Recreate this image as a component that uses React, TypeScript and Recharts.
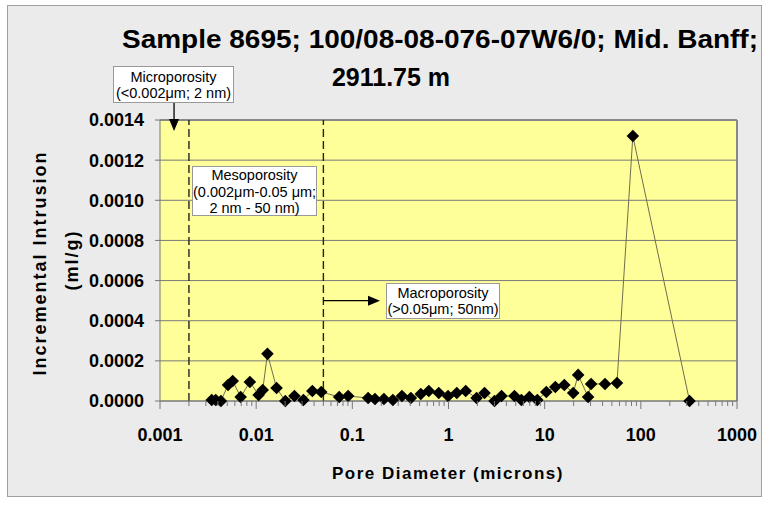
import React from "react"
import {
  CartesianGrid,
  ComposedChart,
  ReferenceLine,
  Scatter,
  XAxis,
  YAxis,
} from "recharts"

// pore diameter (microns)
const poreDiameter = [
  0.00345, 0.0038, 0.0043, 0.0051, 0.0057, 0.0069, 0.0086, 0.0106, 0.0117, 0.0131,
  0.0163, 0.0201, 0.025, 0.031, 0.0384, 0.0475, 0.073, 0.0905, 0.146, 0.172,
  0.213, 0.264, 0.328, 0.406, 0.515, 0.624, 0.792, 0.99, 1.22, 1.51,
  1.96, 2.37, 3.01, 3.56, 4.85, 5.73, 6.93, 8.38, 10.4, 12.9,
  16.0, 19.8, 22.3, 28.3, 30.4, 42.4, 56.5, 82.6, 321,
]

// incremental intrusion (ml/g)
const intrusion = [
  0.000005, 0.000005, 0, 0.00008, 0.0001, 0.00002, 0.000095, 0.00003, 0.000055, 0.000235,
  0.000065, 0, 0.000025, 0.000005, 0.00005, 0.000045, 0.00002, 0.000025, 0.000015, 0.00001,
  0.00001, 0.000005, 0.000025, 0.000015, 0.000035, 0.00005, 0.00004, 0.000025, 0.00004, 0.00005,
  0.000015, 0.00004, 0, 0.000025, 0.000025, 0.000005, 0.00002, 0.000005, 0.000045, 0.00007,
  0.00008, 0.00004, 0.00013, 0.00002, 0.000085, 0.000085, 0.00009, 0.00132, 0,
]

const xMajorTicks = [0.001, 0.01, 0.1, 1, 10, 100, 1000]
const xMinorSteps = [2, 3, 4, 5, 6, 7, 8, 9]
const yTicks = [0, 0.0002, 0.0004, 0.0006, 0.0008, 0.001, 0.0012, 0.0014]

const data = poreDiameter.map((d, i) => ({ d, v: intrusion[i] }))

const xTicks = [
  ...xMajorTicks,
  ...xMajorTicks.slice(0, -1).flatMap((m) => xMinorSteps.map((s) => +(m * s).toPrecision(3))),
].sort((a, b) => a - b)

const FONT = '"Liberation Sans", Arial, Helvetica, sans-serif'

function XTick(props: any) {
  const { x, y, payload } = props
  const major = xMajorTicks.includes(payload.value)
  return (
    <g>
      <line x1={x} x2={x} y1={y} y2={y + (major ? 8 : 5)} stroke="#777" />
      {major && (
        <text
          x={x}
          y={y + 40}
          textAnchor="middle"
          fontFamily={FONT}
          fontWeight="bold"
          fontSize={18}
          fill="#000"
        >
          {String(payload.value)}
        </text>
      )}
    </g>
  )
}

function Diamond(props: any) {
  const { cx, cy } = props
  const r = 6.3
  return (
    <polygon
      points={`${cx},${cy - r} ${cx + r},${cy} ${cx},${cy + r} ${cx - r},${cy}`}
      fill="#000"
    />
  )
}

function Arrow(props: any) {
  const { x1, y1, x2, y2 } = props
  const len = Math.hypot(x2 - x1, y2 - y1)
  const ux = (x2 - x1) / len
  const uy = (y2 - y1) / len
  const head = 12
  const half = 5
  const bx = x2 - ux * head
  const by = y2 - uy * head
  return (
    <g>
      <line x1={x1} y1={y1} x2={bx} y2={by} stroke="#000" strokeWidth={1.3} />
      <polygon
        points={`${x2},${y2} ${bx - uy * half},${by + ux * half} ${bx + uy * half},${by - ux * half}`}
        fill="#000"
      />
    </g>
  )
}

const boxStyle: React.CSSProperties = {
  position: "absolute",
  background: "#fff",
  border: "1px solid #999",
  fontFamily: FONT,
  fontSize: 14.5,
  lineHeight: "16px",
  textAlign: "center",
  color: "#000",
  boxSizing: "border-box",
  whiteSpace: "nowrap",
}

export default function App() {
  return (
    <div style={{ position: "absolute", left: 0, top: 0, width: 770, height: 510, background: "#fff" }}>
      <div
        style={{
          position: "absolute",
          left: 7,
          top: 5,
          width: 755,
          height: 492,
          background: "#EBEBEB",
          border: "1px solid #a0a0a0",
          boxSizing: "border-box",
        }}
      />
      <div style={{ position: "absolute", left: 0, top: 0 }}>
        <ComposedChart
          width={770}
          height={510}
          data={data}
          margin={{ top: 120, right: 33, bottom: 69, left: 0 }}
        >
          <CartesianGrid vertical={false} stroke="#7a7a7a" fill="#FFFF99" fillOpacity={1} />
          <XAxis
            dataKey="d"
            type="number"
            scale="log"
            domain={[0.001, 1000]}
            ticks={xTicks}
            interval={0}
            allowDataOverflow
            height={40}
            tickSize={0}
            tickMargin={0}
            tickLine={false}
            tick={<XTick />}
            axisLine={{ stroke: "#777" }}
          />
          <YAxis
            type="number"
            domain={[0, 0.0014]}
            ticks={yTicks}
            width={160}
            tickSize={5}
            tickMargin={11}
            tickLine={{ stroke: "#777" }}
            axisLine={{ stroke: "#777" }}
            tickFormatter={(v: number) => v.toFixed(4)}
            tick={{ fill: "#000", fontSize: 18, fontWeight: "bold", fontFamily: FONT }}
          />
          <ReferenceLine y={0.0014} stroke="#888" strokeWidth={2} />
          <ReferenceLine x={1000} stroke="#888" strokeWidth={2} />
          <ReferenceLine x={0.002} stroke="#222" strokeWidth={1.4} strokeDasharray="8 4" />
          <ReferenceLine x={0.05} stroke="#222" strokeWidth={1.4} strokeDasharray="8 4" />
          <ReferenceLine
            segment={[
              { x: 0.0014, y: 0.001485 },
              { x: 0.0014, y: 0.001345 },
            ]}
            ifOverflow="visible"
            shape={(p: any) => <Arrow {...p} />}
          />
          <ReferenceLine
            segment={[
              { x: 0.05, y: 0.0005 },
              { x: 0.194, y: 0.0005 },
            ]}
            ifOverflow="visible"
            shape={(p: any) => <Arrow {...p} />}
          />
          <Scatter
            dataKey="v"
            isAnimationActive={false}
            line={{ stroke: "#6e6e4e", strokeWidth: 1 }}
            lineType="joint"
            shape={(p: any) => <Diamond {...p} />}
          />
        </ComposedChart>
      </div>

      <svg
        width={770}
        height={510}
        style={{ position: "absolute", left: 0, top: 0, pointerEvents: "none" }}
      >
        <g fontFamily={FONT} fontWeight="bold" fill="#000">
          <text x={440} y={48} textAnchor="middle" fontSize={25} textLength={636} lengthAdjust="spacingAndGlyphs">
            Sample 8695; 100/08-08-076-07W6/0; Mid. Banff;
          </text>
          <text x={391} y={86} textAnchor="middle" fontSize={25}>
            2911.75 m
          </text>
          <text
            transform="translate(46,263) rotate(-90)"
            textAnchor="middle"
            fontSize={18}
            letterSpacing={2}
          >
            Incremental Intrusion
          </text>
          <text
            transform="translate(78,260) rotate(-90)"
            textAnchor="middle"
            fontSize={18}
            letterSpacing={2}
          >
            (ml/g)
          </text>
          <text x={448} y={479} textAnchor="middle" fontSize={17} letterSpacing={1.5}>
            Pore Diameter (microns)
          </text>
        </g>
      </svg>

      <div style={{ ...boxStyle, left: 113, top: 66, width: 121, height: 37, paddingTop: 2 }}>
        Microporosity
        <br />
        (&lt;0.002μm; 2 nm)
      </div>
      <div style={{ ...boxStyle, left: 192, top: 166, width: 125, height: 50, paddingTop: 0, lineHeight: "16.5px" }}>
        Mesoporosity
        <br />
        (0.002μm-0.05 μm;
        <br />
        2 nm - 50 nm)
      </div>
      <div style={{ ...boxStyle, left: 386, top: 283, width: 114, height: 36, paddingTop: 1 }}>
        Macroporosity
        <br />
        (&gt;0.05μm; 50nm)
      </div>
    </div>
  )
}
